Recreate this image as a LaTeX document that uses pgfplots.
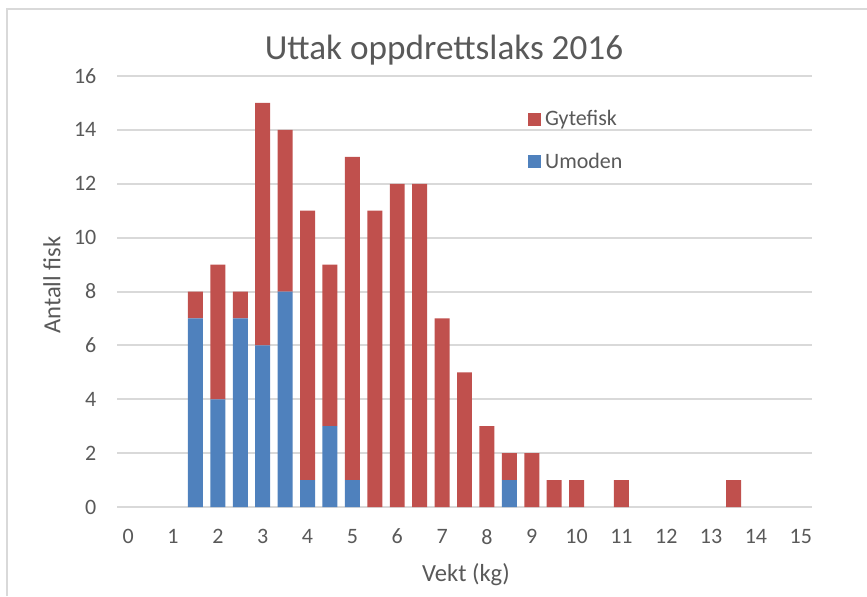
\documentclass[border=0pt]{standalone}
\usepackage{pgfplots}
\pgfplotsset{compat=1.18}
\usepackage{fontspec}
\setmainfont{Carlito}
\definecolor{gyte}{HTML}{C0504D}
\definecolor{umod}{HTML}{4F81BD}
\definecolor{txt}{HTML}{595959}
\definecolor{grd}{HTML}{D9D9D9}
\begin{document}
\begin{tikzpicture}
\useasboundingbox (0,0) rectangle (433.5pt,298pt);
\draw[grd, line width=1pt] (3.5pt,0) -- (3.5pt,293.5pt) -- (433.5pt,293.5pt);
\begin{axis}[at={(58.5pt,44.5pt)}, anchor=south west, scale only axis,
 width=347.5pt, height=215.5pt,
 ybar stacked, bar width=0.334,
 xmin=-0.25, xmax=15.25, ymin=0, ymax=16,
 xtick={0,...,15}, ytick={0,2,...,16},
 ymajorgrids, grid style={grd, line width=1pt},
 axis line style={draw=none}, major tick length=0pt,
 tick label style={font=\fontsize{11}{13}\selectfont, text=txt},
 /pgf/number format/assume math mode=true,
 xticklabel style={yshift=-7.5pt}, yticklabel style={xshift=-6.8pt},
 reverse legend,
 legend style={draw=none, fill=none, at={(0.591,0.93)}, anchor=north west,
   font=\fontsize{11}{13}\selectfont, text=txt, row sep=8pt, inner sep=0pt},
 legend image code/.code={\fill[#1] (0pt,-3.25pt) rectangle (6.5pt,3.25pt);},
 legend cell align=left,
]
\addplot[fill=umod, draw=none] coordinates {
(1.5,7) (2,4) (2.5,7) (3,6) (3.5,8) (4,1) (4.5,3) (5,1) (5.5,0) (6,0) (6.5,0)
(7,0) (7.5,0) (8,0) (8.5,1) (9,0) (9.5,0) (10,0) (11,0) (13.5,0)};
\addlegendentry{Umoden}
\addplot[fill=gyte, draw=none] coordinates {
(1.5,1) (2,5) (2.5,1) (3,9) (3.5,6) (4,10) (4.5,6) (5,12) (5.5,11) (6,12) (6.5,12)
(7,7) (7.5,5) (8,3) (8.5,1) (9,2) (9.5,1) (10,1) (11,1) (13.5,1)};
\addlegendentry{Gytefisk}
\end{axis}
\node[text=txt, font=\fontsize{17.6}{20}\selectfont] at (222pt,273pt) {Uttak oppdrettslaks 2016};
\node[text=txt, font=\fontsize{12.3}{14}\selectfont, rotate=90] at (26pt,155.5pt) {Antall fisk};
\node[text=txt, font=\fontsize{12.3}{14}\selectfont] at (233pt,10.5pt) {Vekt (kg)};
\end{tikzpicture}
\end{document}
